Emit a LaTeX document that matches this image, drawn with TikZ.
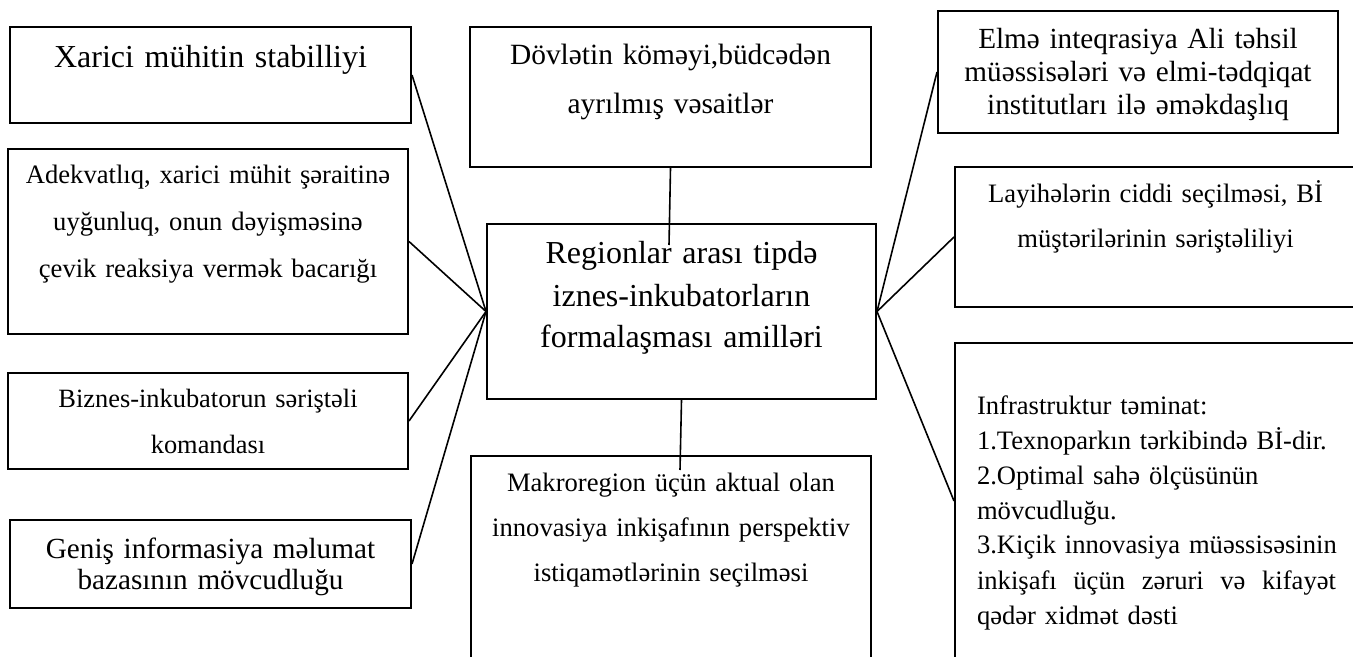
\documentclass[tikz,border=0pt]{standalone}
\usepackage{fontspec}
\setmainfont{Liberation Serif}
\usetikzlibrary{positioning}

\begin{document}
\begin{tikzpicture}[x=0.5pt, y=-0.5pt,
    factor/.style={draw, line width=1pt, anchor=north west, inner xsep=4pt, inner ysep=0pt, align=center},
    link/.style={line width=0.8pt}]
    \useasboundingbox (0,0) rectangle (1353,657);
    \clip (0,0) rectangle (1353,657);
    \node (stab) [factor, text width=192.5pt, text height=20.5pt, text depth=27.5pt, font={\fontsize{16pt}{21pt}\selectfont}] at (9,26) {Xarici mühitin stabilliyi};
    \node (adeq) [factor, text width=192pt, text height=17.5pt, text depth=75pt, font={\fontsize{13.3pt}{23.3pt}\selectfont}] at (7,148) {Adekvatlıq, xarici mühit şəraitinə\\uyğunluq, onun dəyişməsinə\\çevik reaksiya vermək bacarığı};
    \node (team) [factor, text width=192pt, text height=17.5pt, text depth=30.5pt, font={\fontsize{13.2pt}{23pt}\selectfont}] at (7,372) {Biznes-inkubatorun səriştəli\\komandası};
    \node (info) [factor, text width=192.5pt, text height=19pt, text depth=25pt, font={\fontsize{14.6pt}{15.8pt}\selectfont}] at (9,519) {Geniş informasiya məlumat\\bazasının mövcudluğu};
    \node (state) [factor, text width=192.5pt, text height=19pt, text depth=51pt, font={\fontsize{14.7pt}{24.5pt}\selectfont}] at (469,26) {Dövlətin köməyi,büdcədən\\ayrılmış vəsaitlər};
    \node (core) [factor, text width=186.5pt, text height=20pt, text depth=67.5pt, font={\fontsize{16pt}{21pt}\selectfont}] at (486,223) {Regionlar arası tipdə\\iznes-inkubatorların\\formalaşması amilləri};
    \node (macro) [factor, text width=192pt, text height=17.5pt, text depth=84pt, font={\fontsize{13.3pt}{22.5pt}\selectfont}] at (470,455) {Makroregion üçün aktual olan\\innovasiya inkişafının perspektiv\\istiqamətlərinin seçilməsi};
    \node (science) [factor, text width=192pt, text height=19pt, text depth=42pt, font={\fontsize{14.6pt}{16.5pt}\selectfont}] at (937,10) {Elmə inteqrasiya Ali təhsil\\müəssisələri və elmi-tədqiqat\\institutları ilə əməkdaşlıq};
    \node (select) [factor, text width=192.5pt, text height=18pt, text depth=52pt, font={\fontsize{13.3pt}{22.5pt}\selectfont}] at (954,166) {Layihələrin ciddi seçilməsi, Bİ\\müştərilərinin səriştəliliyi};
    \node (infra) [factor, align=left, inner xsep=11pt, text width=184pt, text height=35.5pt, text depth=122.5pt, font={\fontsize{13.3pt}{17.5pt}\selectfont}] at (954,342) {Infrastruktur təminat:\\1.Texnoparkın tərkibində Bİ-dir.\\2.Optimal sahə ölçüsünün\\mövcudluğu.\\\mbox{3.Kiçik innovasiya müəssisəsinin}\\\leavevmode\hbox to 179.5pt{inkişafı\hfill üçün\hfill zəruri\hfill və\hfill kifayət}\\qədər xidmət dəsti};

    \draw [link] (stab.east) -- (core.west);
    \draw [link] (adeq.east) -- (core.west);
    \draw [link] (team.east) -- (core.west);
    \draw [link] (info.east) -- (core.west);
    \draw [link] (science.west) -- (core.east);
    \draw [link] (select.west) -- (core.east);
    \draw [link] (infra.west) -- (core.east);
    \coordinate (stateEnd) at (669,245);
    \draw [link] (state.south) -- (stateEnd);
    \coordinate (macroEnd) at (680,470);
    \draw [link] (core.south) -- (macroEnd);
\end{tikzpicture}
\end{document}
